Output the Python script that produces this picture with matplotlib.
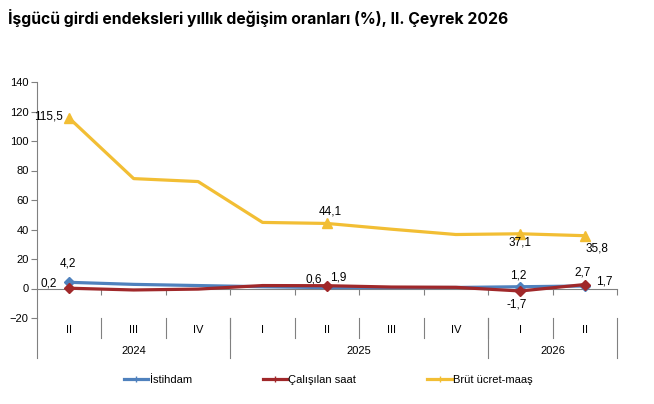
import matplotlib
matplotlib.use("Agg")
from matplotlib import pyplot as plt
from matplotlib.lines import Line2D
import matplotlib.transforms as mtransforms

quarters = ["II", "III", "IV", "I", "II", "III", "IV", "I", "II"]
years = ["2024", "2025", "2026"]
year_spans = [(0, 2), (3, 6), (7, 8)]

istihdam = [4.2, 2.8, 2.0, 1.2, 0.6, 0.6, 0.7, 1.2, 1.7]
calisilan_saat = [0.2, -1.0, -0.4, 2.0, 1.9, 1.0, 0.8, -1.7, 2.7]
brut_ucret = [115.5, 74.5, 72.5, 44.8, 44.1, 40.2, 36.6, 37.1, 35.8]

c_blue = "#4F81BD"
c_red = "#A0282A"
c_yellow = "#F2BE34"

plt.rcParams['font.family'] = ['Liberation Sans', 'DejaVu Sans']

fig = plt.figure(figsize=(6.54, 4.04), dpi=100)
ax = fig.add_axes([37 / 654, 1 - 318 / 404, 580 / 654, 236 / 404])

x = list(range(len(quarters)))
ax.plot(x, brut_ucret, color=c_yellow, lw=2.3, marker="^", ms=7,
        markevery=[0, 4, 7, 8], zorder=3)
ax.plot(x, istihdam, color=c_blue, lw=2.3, marker="D", ms=5,
        markevery=[0, 7, 8], zorder=4)
ax.plot(x, calisilan_saat, color=c_red, lw=2.3, marker="D", ms=5,
        markevery=[0, 4, 7, 8], zorder=5)

ax.set_xlim(-0.5, 8.5)
ax.set_ylim(-20, 140)
ax.set_yticks(range(-20, 141, 20))
ax.tick_params(axis='y', labelsize=8, length=4, width=0.8, colors="#808080",
               labelcolor="black", pad=2)

for s in ["top", "right"]:
    ax.spines[s].set_visible(False)
ax.spines["left"].set_color("#808080")
ax.spines["bottom"].set_position(("data", 0))
ax.spines["bottom"].set_color("#808080")
ax.set_xticks([i - 0.5 for i in range(1, 10)])
ax.tick_params(axis='x', labelbottom=False, length=4, width=0.8,
               colors="#808080", direction="out")

# category label area below the plot
tr = mtransforms.blended_transform_factory(ax.transData, ax.transAxes)
fh = 236.0
for i, q in enumerate(quarters):
    ax.text(i, -(330 - 318) / fh, q, transform=tr, ha="center",
            va="center", fontsize=8)
for i in range(1, 9):
    ax.plot([i - 0.5, i - 0.5], [0, -(338 - 318) / fh], transform=tr,
            color="#808080", lw=0.8, clip_on=False)
for b in [-0.5, 2.5, 6.5, 8.5]:
    ax.plot([b, b], [0, -(358 - 318) / fh], transform=tr,
            color="#808080", lw=0.8, clip_on=False)
for yr, (a, b) in zip(years, year_spans):
    ax.text((a + b) / 2, -(351 - 318) / fh, yr, transform=tr, ha="center",
            va="center", fontsize=8)

# data labels
def lab(xi, yv, txt, dx, dy):
    ax.annotate(txt, (xi, yv), xytext=(dx, dy), textcoords="offset pixels",
                ha="center", va="center", fontsize=8.5)

lab(0, brut_ucret[0], "115,5", -21, 2)
lab(4, brut_ucret[4], "44,1", 3, 12)
lab(7, brut_ucret[7], "37,1", 0, -9)
lab(8, brut_ucret[8], "35,8", 12, -13)
lab(0, istihdam[0], "4,2", -1, 19)
lab(0, calisilan_saat[0], "0,2", -21, 5)
lab(4, istihdam[4], "0,6", -13, 8)
lab(4, calisilan_saat[4], "1,9", 11, 8)
lab(7, istihdam[7], "1,2", -2, 11)
lab(7, calisilan_saat[7], "-1,7", -4, -13)
lab(8, calisilan_saat[8], "2,7", -2, 12)
lab(8, istihdam[8], "1,7", 20, 4)

fig.text(8 / 654, 1 - 18 / 404,
         "İşgücü girdi endeksleri yıllık değişim oranları (%), II. Çeyrek 2026",
         fontsize=11.3, fontweight="bold", family=["Inter", "DejaVu Sans"],
         va="center", ha="left")

handles = [
    Line2D([], [], color=c_blue, lw=2.3, marker="+", ms=4),
    Line2D([], [], color=c_red, lw=2.3, marker="+", ms=4),
    Line2D([], [], color=c_yellow, lw=2.3, marker="+", ms=4),
]
fig.legend(handles, ["İstihdam", "Çalışılan saat", "Brüt ücret-maaş"],
           loc="center", bbox_to_anchor=(0.502, 1 - 380 / 404), ncol=3,
           frameon=False, fontsize=8, handlelength=2.2, handletextpad=0.1,
           columnspacing=6.4)

fig.savefig("out.png", dpi=100)
